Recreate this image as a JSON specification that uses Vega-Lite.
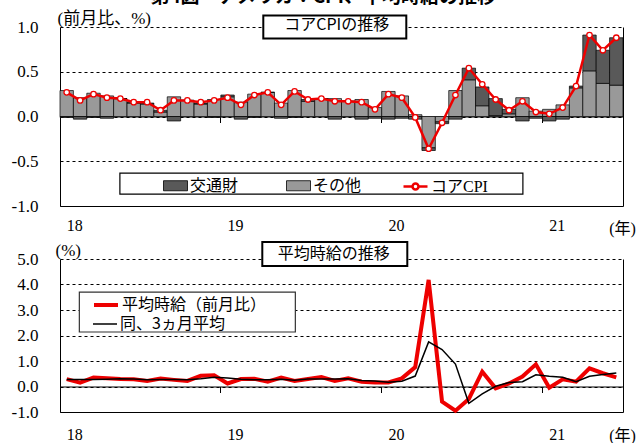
{
  "$schema": "https://vega.github.io/schema/vega-lite/v6.json",
  "background": "white",
  "padding": {"left": 11, "top": -12, "right": 0, "bottom": 0},
  "title": {
    "text": "第4図　アメリカ：CPI、平均時給の推移",
    "font": "Noto Sans CJK JP",
    "fontSize": 19,
    "fontWeight": "bold",
    "color": "black",
    "anchor": "middle",
    "offset": 2
  },
  "config": {
    "view": {"stroke": null},
    "font": "'Liberation Serif', 'Noto Sans CJK JP'",
    "axis": {
      "labelFont": "'Liberation Serif', 'Noto Sans CJK JP'",
      "titleFont": "'Liberation Serif', 'Noto Sans CJK JP'",
      "labelColor": "black",
      "titleColor": "black",
      "titleFontWeight": "normal",
      "labelFontSize": 16,
      "titleFontSize": 16,
      "labelAngle": 0,
      "domainColor": "black",
      "domainWidth": 1,
      "tickColor": "black",
      "gridColor": "black",
      "gridDash": [3, 3],
      "gridWidth": 1,
      "gridOpacity": 1
    },
    "legend": {
      "labelFont": "'Liberation Serif', 'Noto Sans CJK JP'",
      "labelFontSize": 16,
      "labelColor": "black"
    }
  },
  "datasets": {
    "parts": [
      {"month": "2018-01", "series": "その他", "value": 0.29}, {"month": "2018-01", "series": "交通財", "value": -0.01},
      {"month": "2018-02", "series": "その他", "value": 0.21}, {"month": "2018-02", "series": "交通財", "value": -0.03},
      {"month": "2018-03", "series": "その他", "value": 0.26}, {"month": "2018-03", "series": "交通財", "value": -0.01},
      {"month": "2018-04", "series": "その他", "value": 0.23}, {"month": "2018-04", "series": "交通財", "value": -0.02},
      {"month": "2018-05", "series": "その他", "value": 0.20}, {"month": "2018-05", "series": "交通財", "value": 0.00},
      {"month": "2018-06", "series": "その他", "value": 0.15}, {"month": "2018-06", "series": "交通財", "value": 0.01},
      {"month": "2018-07", "series": "その他", "value": 0.14}, {"month": "2018-07", "series": "交通財", "value": 0.01},
      {"month": "2018-08", "series": "その他", "value": 0.05}, {"month": "2018-08", "series": "交通財", "value": 0.02},
      {"month": "2018-09", "series": "その他", "value": 0.22}, {"month": "2018-09", "series": "交通財", "value": -0.05},
      {"month": "2018-10", "series": "その他", "value": 0.18}, {"month": "2018-10", "series": "交通財", "value": 0.00},
      {"month": "2018-11", "series": "その他", "value": 0.14}, {"month": "2018-11", "series": "交通財", "value": 0.01},
      {"month": "2018-12", "series": "その他", "value": 0.19}, {"month": "2018-12", "series": "交通財", "value": -0.01},
      {"month": "2019-01", "series": "その他", "value": 0.22}, {"month": "2019-01", "series": "交通財", "value": 0.02},
      {"month": "2019-02", "series": "その他", "value": 0.16}, {"month": "2019-02", "series": "交通財", "value": -0.03},
      {"month": "2019-03", "series": "その他", "value": 0.25}, {"month": "2019-03", "series": "交通財", "value": -0.01},
      {"month": "2019-04", "series": "その他", "value": 0.27}, {"month": "2019-04", "series": "交通財", "value": 0.00},
      {"month": "2019-05", "series": "その他", "value": 0.15}, {"month": "2019-05", "series": "交通財", "value": -0.02},
      {"month": "2019-06", "series": "その他", "value": 0.29}, {"month": "2019-06", "series": "交通財", "value": -0.01},
      {"month": "2019-07", "series": "その他", "value": 0.17}, {"month": "2019-07", "series": "交通財", "value": 0.02},
      {"month": "2019-08", "series": "その他", "value": 0.20}, {"month": "2019-08", "series": "交通財", "value": 0.00},
      {"month": "2019-09", "series": "その他", "value": 0.20}, {"month": "2019-09", "series": "交通財", "value": -0.03},
      {"month": "2019-10", "series": "その他", "value": 0.17}, {"month": "2019-10", "series": "交通財", "value": 0.00},
      {"month": "2019-11", "series": "その他", "value": 0.19}, {"month": "2019-11", "series": "交通財", "value": -0.03},
      {"month": "2019-12", "series": "その他", "value": 0.10}, {"month": "2019-12", "series": "交通財", "value": -0.02},
      {"month": "2020-01", "series": "その他", "value": 0.28}, {"month": "2020-01", "series": "交通財", "value": -0.03},
      {"month": "2020-02", "series": "その他", "value": 0.23}, {"month": "2020-02", "series": "交通財", "value": -0.02},
      {"month": "2020-03", "series": "その他", "value": 0.02}, {"month": "2020-03", "series": "交通財", "value": -0.03},
      {"month": "2020-04", "series": "その他", "value": -0.35}, {"month": "2020-04", "series": "交通財", "value": -0.03},
      {"month": "2020-05", "series": "その他", "value": -0.06}, {"month": "2020-05", "series": "交通財", "value": -0.02},
      {"month": "2020-06", "series": "その他", "value": 0.29}, {"month": "2020-06", "series": "交通財", "value": -0.03},
      {"month": "2020-07", "series": "その他", "value": 0.41}, {"month": "2020-07", "series": "交通財", "value": 0.13},
      {"month": "2020-08", "series": "その他", "value": 0.12}, {"month": "2020-08", "series": "交通財", "value": 0.21},
      {"month": "2020-09", "series": "その他", "value": 0.01}, {"month": "2020-09", "series": "交通財", "value": 0.19},
      {"month": "2020-10", "series": "その他", "value": 0.03}, {"month": "2020-10", "series": "交通財", "value": 0.05},
      {"month": "2020-11", "series": "その他", "value": 0.21}, {"month": "2020-11", "series": "交通財", "value": -0.05},
      {"month": "2020-12", "series": "その他", "value": 0.06}, {"month": "2020-12", "series": "交通財", "value": -0.02},
      {"month": "2021-01", "series": "その他", "value": 0.08}, {"month": "2021-01", "series": "交通財", "value": -0.05},
      {"month": "2021-02", "series": "その他", "value": 0.13}, {"month": "2021-02", "series": "交通財", "value": -0.03},
      {"month": "2021-03", "series": "その他", "value": 0.32}, {"month": "2021-03", "series": "交通財", "value": 0.02},
      {"month": "2021-04", "series": "その他", "value": 0.51}, {"month": "2021-04", "series": "交通財", "value": 0.40},
      {"month": "2021-05", "series": "その他", "value": 0.37}, {"month": "2021-05", "series": "交通財", "value": 0.37},
      {"month": "2021-06", "series": "その他", "value": 0.35}, {"month": "2021-06", "series": "交通財", "value": 0.53}
    ],
    "cpi": [
      {"month": "2018-01", "cpi": 0.27}, {"month": "2018-02", "cpi": 0.18}, {"month": "2018-03", "cpi": 0.25},
      {"month": "2018-04", "cpi": 0.21}, {"month": "2018-05", "cpi": 0.20}, {"month": "2018-06", "cpi": 0.16},
      {"month": "2018-07", "cpi": 0.16}, {"month": "2018-08", "cpi": 0.07}, {"month": "2018-09", "cpi": 0.18},
      {"month": "2018-10", "cpi": 0.18}, {"month": "2018-11", "cpi": 0.16}, {"month": "2018-12", "cpi": 0.18},
      {"month": "2019-01", "cpi": 0.21}, {"month": "2019-02", "cpi": 0.13}, {"month": "2019-03", "cpi": 0.24},
      {"month": "2019-04", "cpi": 0.27}, {"month": "2019-05", "cpi": 0.13}, {"month": "2019-06", "cpi": 0.28},
      {"month": "2019-07", "cpi": 0.19}, {"month": "2019-08", "cpi": 0.20}, {"month": "2019-09", "cpi": 0.17},
      {"month": "2019-10", "cpi": 0.17}, {"month": "2019-11", "cpi": 0.16}, {"month": "2019-12", "cpi": 0.08},
      {"month": "2020-01", "cpi": 0.25}, {"month": "2020-02", "cpi": 0.21}, {"month": "2020-03", "cpi": -0.01},
      {"month": "2020-04", "cpi": -0.36}, {"month": "2020-05", "cpi": -0.07}, {"month": "2020-06", "cpi": 0.24},
      {"month": "2020-07", "cpi": 0.54}, {"month": "2020-08", "cpi": 0.36}, {"month": "2020-09", "cpi": 0.19},
      {"month": "2020-10", "cpi": 0.07}, {"month": "2020-11", "cpi": 0.17}, {"month": "2020-12", "cpi": 0.05},
      {"month": "2021-01", "cpi": 0.03}, {"month": "2021-02", "cpi": 0.10}, {"month": "2021-03", "cpi": 0.34},
      {"month": "2021-04", "cpi": 0.91}, {"month": "2021-05", "cpi": 0.74}, {"month": "2021-06", "cpi": 0.88}
    ],
    "wage": [
      {"month": "2018-01", "wage": 0.29, "avg3": 0.27}, {"month": "2018-02", "wage": 0.15, "avg3": 0.27},
      {"month": "2018-03", "wage": 0.35, "avg3": 0.27}, {"month": "2018-04", "wage": 0.32, "avg3": 0.28},
      {"month": "2018-05", "wage": 0.29, "avg3": 0.30}, {"month": "2018-06", "wage": 0.28, "avg3": 0.29},
      {"month": "2018-07", "wage": 0.22, "avg3": 0.26}, {"month": "2018-08", "wage": 0.31, "avg3": 0.27},
      {"month": "2018-09", "wage": 0.26, "avg3": 0.27}, {"month": "2018-10", "wage": 0.22, "avg3": 0.26},
      {"month": "2018-11", "wage": 0.42, "avg3": 0.30}, {"month": "2018-12", "wage": 0.44, "avg3": 0.36},
      {"month": "2019-01", "wage": 0.12, "avg3": 0.33}, {"month": "2019-02", "wage": 0.29, "avg3": 0.28},
      {"month": "2019-03", "wage": 0.30, "avg3": 0.26}, {"month": "2019-04", "wage": 0.19, "avg3": 0.26},
      {"month": "2019-05", "wage": 0.35, "avg3": 0.28}, {"month": "2019-06", "wage": 0.22, "avg3": 0.25},
      {"month": "2019-07", "wage": 0.29, "avg3": 0.29}, {"month": "2019-08", "wage": 0.37, "avg3": 0.29},
      {"month": "2019-09", "wage": 0.22, "avg3": 0.29}, {"month": "2019-10", "wage": 0.32, "avg3": 0.30},
      {"month": "2019-11", "wage": 0.19, "avg3": 0.24}, {"month": "2019-12", "wage": 0.16, "avg3": 0.22},
      {"month": "2020-01", "wage": 0.16, "avg3": 0.17}, {"month": "2020-02", "wage": 0.32, "avg3": 0.21},
      {"month": "2020-03", "wage": 0.76, "avg3": 0.41}, {"month": "2020-04", "wage": 4.18, "avg3": 1.75},
      {"month": "2020-05", "wage": -0.59, "avg3": 1.45}, {"month": "2020-06", "wage": -0.95, "avg3": 0.88},
      {"month": "2020-07", "wage": -0.49, "avg3": -0.66}, {"month": "2020-08", "wage": 0.58, "avg3": -0.29},
      {"month": "2020-09", "wage": -0.07, "avg3": 0.01}, {"month": "2020-10", "wage": 0.12, "avg3": 0.16},
      {"month": "2020-11", "wage": 0.39, "avg3": 0.19}, {"month": "2020-12", "wage": 0.87, "avg3": 0.46},
      {"month": "2021-01", "wage": -0.05, "avg3": 0.40}, {"month": "2021-02", "wage": 0.28, "avg3": 0.36},
      {"month": "2021-03", "wage": 0.19, "avg3": 0.19}, {"month": "2021-04", "wage": 0.71, "avg3": 0.40},
      {"month": "2021-05", "wage": 0.52, "avg3": 0.47}, {"month": "2021-06", "wage": 0.36, "avg3": 0.53}
    ]
  },
  "spacing": 1,
  "resolve": {
    "scale": {"color": "independent", "stroke": "independent"},
    "legend": {"color": "independent", "stroke": "independent"}
  },
  "vconcat": [
    {
      "width": 563,
      "height": 179,
      "resolve": {"axis": {"x": "independent", "y": "independent"}},
      "layer": [
        {
          "data": {"name": "parts"},
          "mark": {"type": "bar", "stroke": "black", "strokeWidth": 0.7},
          "encoding": {
            "x": {
              "field": "month", "type": "ordinal",
              "scale": {"type": "band", "paddingInner": 0, "paddingOuter": 0},
              "axis": {
                "orient": "bottom", "offset": -89.5, "values": ["2019-01", "2020-01", "2021-01"],
                "bandPosition": 0, "labels": false, "ticks": true, "tickSize": 6, "domain": true,
                "grid": false, "title": null
              }
            },
            "y": {
              "field": "value", "type": "quantitative", "stack": "zero",
              "scale": {"domain": [-1, 1], "nice": false, "zero": false},
              "axis": {
                "values": [-1, -0.5, 0, 0.5, 1],
                "labelExpr": "datum.value < 0 ? '-' + format(-datum.value, '.1f') : format(datum.value, '.1f')",
                "labelFontSize": 17, "tickSize": 0, "ticks": false, "labelPadding": 22,
                "domain": true, "grid": true,
                "title": "(前月比、%)", "titleAngle": 0, "titleAlign": "left", "titleBaseline": "middle",
                "titleX": -3, "titleY": -9, "titleFontSize": 17
              }
            },
            "color": {
              "field": "series", "type": "nominal",
              "scale": {"domain": ["交通財", "その他"], "range": ["#595959", "#999999"]},
              "legend": {
                "orient": "none", "legendX": 103, "legendY": 146, "direction": "horizontal", "columns": 2,
                "title": null, "padding": 0, "columnPadding": 45, "labelOffset": 2, "symbolSize": 576,
                "symbolType": "M-1,-0.42L1,-0.42L1,0.42L-1,0.42Z",
                "symbolStrokeColor": "black", "symbolStrokeWidth": 0.8, "symbolOpacity": 1,
                "labelFontSize": 16
              }
            },
            "order": {"field": "series", "sort": "ascending"}
          }
        },
        {
          "data": {"name": "cpi"},
          "mark": {"type": "line", "strokeWidth": 2.5},
          "encoding": {
            "x": {
              "field": "month", "type": "ordinal",
              "axis": {
                "orient": "bottom", "values": ["2018-01", "2019-01", "2020-01", "2021-01"],
                "bandPosition": 0, "labelExpr": "substring(datum.value, 2, 4)", "labelAlign": "left",
                "labelAngle": 0, "labelBaseline": "top",
                "labelPadding": 11, "ticks": false, "tickSize": 0, "domain": true, "grid": false,
                "labelFlush": false, "labelOverlap": false, "labelFontSize": 16,
                "title": "(年)", "titleX": 562, "titleY": 22, "titleAlign": "center", "titleBaseline": "middle",
                "titleFontSize": 16
              }
            },
            "y": {
              "field": "cpi", "type": "quantitative",
              "axis": {"orient": "right", "labels": false, "ticks": false, "grid": false, "domain": true, "title": null}
            },
            "stroke": {
              "datum": "コアCPI",
              "scale": {"domain": ["コアCPI"], "range": ["#ee0000"]},
              "legend": {
                "orient": "none", "legendX": 342, "legendY": 146, "title": null, "padding": 0,
                "labelOffset": 2, "symbolSize": 576,
                "symbolType": "M-1,0L-0.25,0M0.25,0L1,0M-0.25,0A0.25,0.25,0,1,0,0.25,0A0.25,0.25,0,1,0,-0.25,0Z",
                "symbolFillColor": "white", "symbolStrokeWidth": 2.5, "symbolOpacity": 1,
                "labelFontSize": 16
              }
            }
          }
        },
        {
          "data": {"name": "cpi"},
          "mark": {"type": "point", "filled": true, "fill": "white", "stroke": "#ee0000", "strokeWidth": 1.3, "size": 30, "opacity": 1},
          "encoding": {
            "x": {"field": "month", "type": "ordinal", "axis": null},
            "y": {"field": "cpi", "type": "quantitative", "axis": null}
          }
        },
        {
          "data": {"values": [{"label": "コアCPIの推移"}]},
          "mark": {"type": "point", "shape": "M-1,-0.161L1,-0.161L1,0.161L-1,0.161Z", "size": 20449, "filled": true, "fill": "white", "stroke": "black", "strokeWidth": 2, "opacity": 1, "dx": 2, "dy": -2.5},
          "encoding": {
            "x": {"datum": "2019-09", "type": "ordinal", "axis": null},
            "y": {"datum": 1, "type": "quantitative", "axis": null}
          }
        },
        {
          "data": {"values": [{"label": "コアCPIの推移"}]},
          "mark": {"type": "text", "font": "Noto Sans CJK JP", "fontSize": 16, "color": "black", "dx": 2, "dy": -2.5, "align": "center", "baseline": "middle"},
          "encoding": {
            "x": {"datum": "2019-09", "type": "ordinal", "axis": null},
            "y": {"datum": 1, "type": "quantitative", "axis": null},
            "text": {"field": "label"}
          }
        },
        {
          "data": {"values": [{"label": "legend"}]},
          "mark": {"type": "point", "shape": "M-1,-0.0521L1,-0.0521L1,0.0521L-1,0.0521Z", "size": 162409, "filled": true, "fill": "white", "stroke": "black", "strokeWidth": 1.2, "opacity": 1, "dx": 2},
          "encoding": {
            "x": {"datum": "2019-08", "type": "ordinal", "axis": null},
            "y": {"datum": -0.75, "type": "quantitative", "axis": null}
          }
        }
      ]
    },
    {
      "width": 563,
      "height": 153,
      "resolve": {"axis": {"x": "independent", "y": "independent"}},
      "layer": [
        {
          "data": {"values": [{"label": "legend"}]},
          "mark": {"type": "point", "shape": "M-1,-0.185L1,-0.185L1,0.185L-1,0.185Z", "size": 46656, "filled": true, "fill": "white", "stroke": "#333333", "strokeWidth": 1.2, "opacity": 1, "dx": -9},
          "encoding": {
            "x": {"datum": "2018-10", "type": "ordinal", "axis": null},
            "y": {"datum": 2.92, "type": "quantitative", "axis": null}
          }
        },
        {
          "data": {"name": "wage"},
          "mark": {"type": "line", "strokeWidth": 4},
          "encoding": {
            "x": {
              "field": "month", "type": "ordinal",
              "scale": {"type": "band", "paddingInner": 0, "paddingOuter": 0},
              "axis": {
                "orient": "bottom", "offset": -25.5, "values": ["2019-01", "2020-01", "2021-01"],
                "bandPosition": 0, "labels": false, "ticks": true, "tickSize": 6, "domain": true,
                "grid": false, "title": null
              }
            },
            "y": {
              "field": "wage", "type": "quantitative",
              "scale": {"domain": [-1, 5], "nice": false, "zero": false},
              "axis": {
                "values": [-1, 0, 1, 2, 3, 4, 5],
                "labelExpr": "datum.value < 0 ? '-' + format(-datum.value, '.1f') : format(datum.value, '.1f')",
                "labelFontSize": 17, "tickSize": 0, "ticks": false, "labelPadding": 22,
                "domain": true, "grid": true,
                "title": "(%)", "titleAngle": 0, "titleAlign": "left", "titleBaseline": "middle",
                "titleX": -5, "titleY": -9, "titleFontSize": 17
              }
            },
            "stroke": {
              "datum": "平均時給（前月比）",
              "scale": {"domain": ["平均時給（前月比）"], "range": ["#ee0000"]},
              "legend": {
                "orient": "none", "legendX": 32, "legendY": 32, "title": null, "padding": 0,
                "labelOffset": 2, "symbolSize": 576, "symbolType": "stroke", "symbolStrokeWidth": 4,
                "symbolOpacity": 1, "labelFont": "'Noto Sans CJK JP'", "labelFontSize": 16
              }
            }
          }
        },
        {
          "data": {"name": "wage"},
          "mark": {"type": "line", "strokeWidth": 1.5},
          "encoding": {
            "x": {
              "field": "month", "type": "ordinal",
              "axis": {
                "orient": "bottom", "values": ["2018-01", "2019-01", "2020-01", "2021-01"],
                "bandPosition": 0, "labelExpr": "substring(datum.value, 2, 4)", "labelAlign": "left",
                "labelAngle": 0, "labelBaseline": "top",
                "labelPadding": 14, "ticks": false, "tickSize": 0, "domain": true, "grid": false,
                "labelFlush": false, "labelOverlap": false, "labelFontSize": 16,
                "title": "(年)", "titleX": 562, "titleY": 23, "titleAlign": "center", "titleBaseline": "middle",
                "titleFontSize": 16
              }
            },
            "y": {
              "field": "avg3", "type": "quantitative",
              "axis": {"orient": "right", "labels": false, "ticks": false, "grid": false, "domain": true, "title": null}
            },
            "color": {
              "datum": "同、3ヵ月平均",
              "scale": {"domain": ["同、3ヵ月平均"], "range": ["#000000"]},
              "legend": {
                "orient": "none", "legendX": 32, "legendY": 52, "title": null, "padding": 0,
                "labelOffset": 2, "symbolSize": 576, "symbolType": "stroke", "symbolStrokeWidth": 1.5,
                "symbolOpacity": 1, "labelFont": "'Noto Sans CJK JP'", "labelFontSize": 16
              }
            }
          }
        },
        {
          "data": {"values": [{"label": "平均時給の推移"}]},
          "mark": {"type": "point", "shape": "M-1,-0.1655L1,-0.1655L1,0.1655L-1,0.1655Z", "size": 21025, "filled": true, "fill": "white", "stroke": "black", "strokeWidth": 2, "opacity": 1, "dx": -1},
          "encoding": {
            "x": {"datum": "2019-09", "type": "ordinal", "axis": null},
            "y": {"datum": 5.2, "type": "quantitative", "axis": null}
          }
        },
        {
          "data": {"values": [{"label": "平均時給の推移"}]},
          "mark": {"type": "text", "font": "Noto Sans CJK JP", "fontSize": 16, "color": "black", "dx": -1, "align": "center", "baseline": "middle"},
          "encoding": {
            "x": {"datum": "2019-09", "type": "ordinal", "axis": null},
            "y": {"datum": 5.2, "type": "quantitative", "axis": null},
            "text": {"field": "label"}
          }
        }
      ]
    }
  ]
}
